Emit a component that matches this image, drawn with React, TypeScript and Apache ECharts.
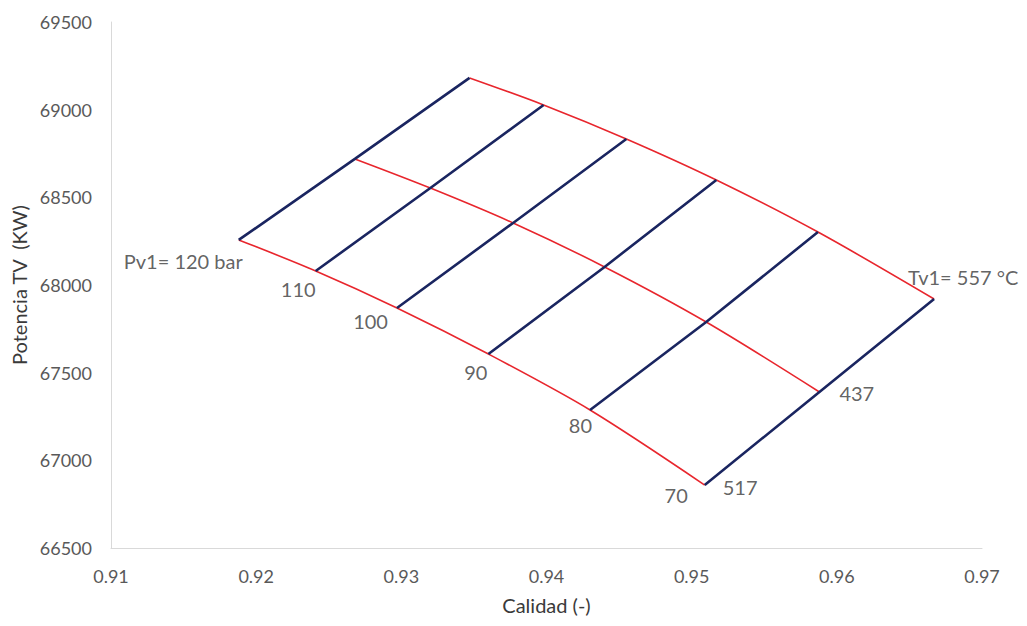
import React, { useEffect, useRef } from "react";
import * as echarts from "echarts";

// Pressure lines (Pv1, bar)
const pressures = [120, 110, 100, 90, 80, 70];
const pressureLabels = ["Pv1= 120 bar", "110", "100", "90", "80", "70"];

// Temperature lines (Tv1, °C): quality (x) and turbine power (y) at each pressure
const tempLabels = ["517", "437", "Tv1= 557 °C"];
const calidadLow = [0.9188, 0.9241, 0.9297, 0.936, 0.943, 0.9509];
const potenciaLow = [68257, 68080, 67869, 67606, 67287, 66859];
const calidadMid = [0.9268, 0.932, 0.9377, 0.944, 0.951, 0.9588];
const potenciaMid = [68719, 68553, 68354, 68103, 67789, 67390];
const calidadHigh = [0.9347, 0.9398, 0.9455, 0.9517, 0.9587, 0.9667];
const potenciaHigh = [69181, 69027, 68833, 68599, 68302, 67920];

const xTicks = [0.91, 0.92, 0.93, 0.94, 0.95, 0.96, 0.97];
const yTicks = [66500, 67000, 67500, 68000, 68500, 69000, 69500];

const FONT = "Lato, 'Open Sans', sans-serif";
const BLUE = "#1a2560";
const RED = "#e8262d";

// label offsets for the pressure labels (px from the point)
const pressureLabelOffsets: [number, number][] = [
  [4, 21],
  [0, 18],
  [-9, 13],
  [-1, 18],
  [2, 15],
  [-17, 10],
];

export default function App() {
  const ref = useRef<HTMLDivElement>(null);

  useEffect(() => {
    if (!ref.current) return;
    const chart = echarts.init(ref.current, null, { renderer: "svg" });

    const tempLines = [
      { x: calidadLow, y: potenciaLow },
      { x: calidadMid, y: potenciaMid },
      { x: calidadHigh, y: potenciaHigh },
    ];

    const redSeries = tempLines.map((t, i) => ({
      type: "line",
      name: "T" + i,
      data: t.x.map((q, j) => [q, t.y[j]]),
      smooth: 0.3,
      symbol: "none",
      lineStyle: { color: RED, width: 1.6 },
      z: 2,
    }));

    const blueSeries = pressures.map((p, j) => ({
      type: "line",
      name: "P" + p,
      data: tempLines.map((t) => [t.x[j], t.y[j]]),
      symbol: "none",
      lineStyle: { color: BLUE, width: 2.6 },
      z: 3,
    }));

    const labelStyle = {
      show: true,
      fontFamily: FONT,
      fontSize: 20,
      color: "#3a3a3a",
      verticalAlign: "middle",
    };

    const pressureLabelSeries = {
      type: "scatter",
      symbolSize: 0,
      silent: true,
      z: 5,
      data: pressures.map((p, j) => ({
        value: [calidadLow[j], potenciaLow[j]],
        label: {
          ...labelStyle,
          position: pressureLabelOffsets[j],
          align: "right",
          formatter: pressureLabels[j],
        },
      })),
    };

    const tempLabelOffsets: [number, number][] = [
      [18, 2],
      [20, 1],
      [-26, -22],
    ];
    const last = pressures.length - 1;
    const tempLabelSeries = {
      type: "scatter",
      symbolSize: 0,
      silent: true,
      z: 5,
      data: tempLines.map((t, i) => ({
        value: [t.x[last], t.y[last]],
        label: {
          ...labelStyle,
          position: tempLabelOffsets[i],
          align: "left",
          formatter: tempLabels[i],
        },
      })),
    };

    chart.setOption({
      animation: false,
      backgroundColor: "#ffffff",
      grid: { left: 111, right: 45, top: 22, bottom: 78, containLabel: false },
      xAxis: {
        type: "value",
        min: xTicks[0],
        max: xTicks[xTicks.length - 1],
        interval: 0.01,
        name: "Calidad (-)",
        nameLocation: "middle",
        nameGap: 47,
        nameTextStyle: { fontFamily: FONT, fontSize: 20, color: "#3a3a3a" },
        axisLine: { show: true, lineStyle: { color: "#d9d9d9", width: 1 } },
        axisTick: { show: false },
        splitLine: { show: false },
        axisLabel: {
          fontFamily: FONT,
          fontSize: 18,
          color: "#595959",
          margin: 19,
          formatter: (v: number) => String(Math.round(v * 100) / 100),
        },
      },
      yAxis: {
        type: "value",
        min: yTicks[0],
        max: yTicks[yTicks.length - 1],
        interval: 500,
        name: "Potencia TV  (KW)",
        nameLocation: "middle",
        nameGap: 82,
        nameTextStyle: { fontFamily: FONT, fontSize: 20, color: "#3a3a3a" },
        axisLine: { show: true, lineStyle: { color: "#d9d9d9", width: 1 } },
        axisTick: { show: false },
        splitLine: { show: false },
        axisLabel: {
          fontFamily: FONT,
          fontSize: 18,
          color: "#595959",
          margin: 19,
          formatter: (v: number) => String(v),
        },
      },
      series: [...redSeries, ...blueSeries, pressureLabelSeries, tempLabelSeries],
    });

    return () => chart.dispose();
  }, []);

  return <div ref={ref} style={{ width: 1027, height: 626, position: "absolute", left: 0, top: 0 }} />;
}
